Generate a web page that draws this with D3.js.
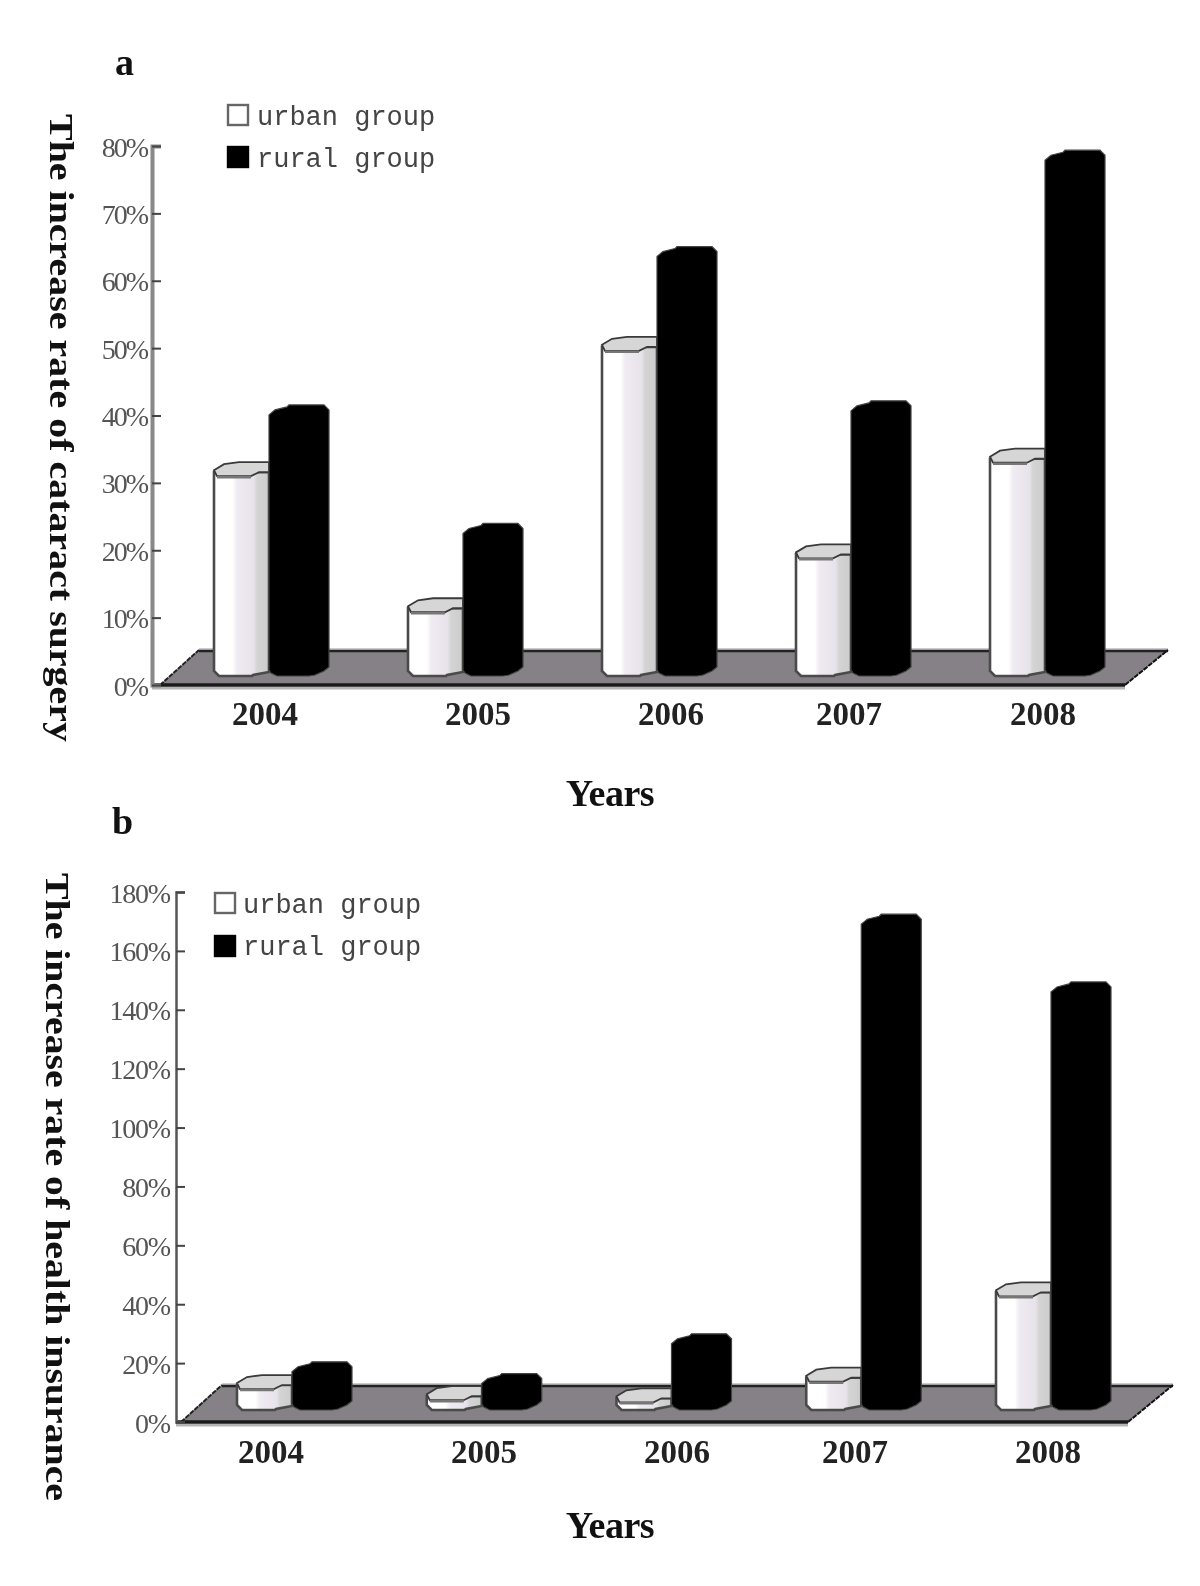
<!DOCTYPE html>
<html><head><meta charset="utf-8">
<script src="https://cdn.jsdelivr.net/npm/d3@7"></script>
<style>html,body{margin:0;padding:0;background:#fff}svg{display:block;filter:blur(.75px)}</style>
</head><body><svg id="c" width="1200" height="1586"></svg>
<script>
const years = ["2004","2005","2006","2007","2008"];
const seriesNames = ["urban group","rural group"];
const urbanA = [30.7,10.5,49.3,18.5,32.7];
const ruralA = [39.2,21.6,62.7,39.8,77];
const urbanB = [9.5,5.7,5,12,41];
const ruralB = [14,10,23.5,166,143];
const ticksA = [0,10,20,30,40,50,60,70,80];
const ticksB = [0,20,40,60,80,100,120,140,160,180];

const panels = [
 {letter:"a",lx:115,ly:75,urban:urbanA,rural:ruralA,ticks:ticksA,axisX:152,top:146,bottom:685,
  barL:214,barR:990,base:676,floorBack:650,backL:199,frontL:160,frontR:1125,backR:1168,
  labelCx:[265,478,671,849,1043],labelY:725,
  yTitle:"The increase rate of cataract surgery",yTx:50,yT0:114,yTlen:628,
  xTy:806,legX:227,legY:[104,146],legTx:257,legBase:[125,167],axisW:4,axisC:"#888",labelSp:-2,labelPad:5},
 {letter:"b",lx:112,ly:834,urban:urbanB,rural:ruralB,ticks:ticksB,axisX:176,top:892,bottom:1422,
  barL:237,barR:996,base:1410,floorBack:1385,backL:222,frontL:181,frontR:1128,backR:1173,
  labelCx:[271,484,677,855,1048],labelY:1463,
  yTitle:"The increase rate of health insurance",yTx:46,yT0:873,yTlen:628,
  xTy:1538,legX:214,legY:[892,935],legTx:243,legBase:[913,955],axisW:2.5,axisC:"#555",labelSp:-1.2,labelPad:6}
];

const svg = d3.select("#c");
const defs = svg.append("defs");
const g = defs.append("linearGradient").attr("id","cyl");
[[0,"#fff"],[.34,"#fff"],[.42,"#f0ebf2"],[.72,"#e8e3ea"],[.78,"#d4d4d4"],[1,"#cccccc"]]
  .forEach(([o,c])=>g.append("stop").attr("offset",o).attr("stop-color",c));
const poly = d3.line().curve(d3.curveLinearClosed);
const W0 = 55, W1 = 60;

panels.forEach(p=>{
  const root = svg.append("g");
  const maxV = d3.max(p.ticks);
  const y = d3.scaleLinear().domain([0,maxV]).range([p.bottom,p.top]);
  const k = (p.bottom-p.top)/maxV;
  const h = v => p.base - v*k;
  const x = d3.scalePoint().domain(years).range([p.barL,p.barR]);

  // floor
  root.append("path").attr("d",poly([[p.frontL,p.bottom],[p.backL,p.floorBack],[p.backR,p.floorBack],[p.frontR,p.bottom]]))
    .attr("fill","#858186");
  root.append("line").attr("x1",p.backL).attr("x2",p.backR).attr("y1",p.floorBack-1).attr("y2",p.floorBack-1).attr("stroke","#bbb").attr("stroke-width",1.5);
  root.append("line").attr("x1",p.backL).attr("x2",p.backR).attr("y1",p.floorBack+1).attr("y2",p.floorBack+1).attr("stroke","#222").attr("stroke-width",2.5);
  root.append("line").attr("x1",p.frontL).attr("x2",p.backL).attr("y1",p.bottom).attr("y2",p.floorBack).attr("stroke","#222").attr("stroke-width",2).attr("stroke-dasharray","5 1");
  root.append("line").attr("x1",p.frontR).attr("x2",p.backR).attr("y1",p.bottom).attr("y2",p.floorBack).attr("stroke","#111").attr("stroke-width",2).attr("stroke-dasharray","5 1");
  root.append("line").attr("x1",p.axisX).attr("x2",p.frontR).attr("y1",p.bottom+3).attr("y2",p.bottom+3).attr("stroke","#b5b5b5").attr("stroke-width",3);
  root.append("line").attr("x1",p.axisX).attr("x2",p.frontR).attr("y1",p.bottom).attr("y2",p.bottom).attr("stroke","#1a1a1a").attr("stroke-width",3.5);

  // axis
  const ax = root.append("g").attr("transform",`translate(${p.axisX},0)`)
    .call(d3.axisLeft(y).tickValues(p.ticks).tickSize(-9).tickPadding(p.labelPad).tickFormat(d=>d+"%"));
  ax.select(".domain").attr("stroke",p.axisC).attr("stroke-width",p.axisW);
  ax.selectAll("line").attr("stroke","#444").attr("stroke-width",2);
  ax.selectAll("text").attr("font-family","Liberation Serif").attr("font-size",28).attr("fill","#555")
    .attr("letter-spacing",p.labelSp).attr("dy","0.36em");

  // bars
  years.forEach((yr,i)=>{
    const x0=x(yr), x1=x0+W0, t=h(p.urban[i]), b=p.base;
    const bar=root.append("g");
    bar.append("path").attr("d",poly([[x0,t+3],[x1,t+3],[x1,b-4],[x1-16,b-1],[x1-17,b],[x0+5,b],[x0,b-5]]))
      .attr("fill","url(#cyl)").attr("stroke","#4a4a4a").attr("stroke-width",2.6);
    bar.append("path").attr("d",poly([[x0,t+1],[x0+10,t-5],[x0+25,t-7],[x1,t-7],[x1,t+3],[x1-10,t+3],[x1-18,t+7],[x0+3,t+7]]))
      .attr("fill","#d6d6d6").attr("stroke","#3a3a3a").attr("stroke-width",1.8);
    bar.append("line").attr("x1",x0+3).attr("x2",x1-18).attr("y1",t+8).attr("y2",t+8).attr("stroke","#777").attr("stroke-width",2.5);
    const r0=x1, r1=r0+W1, rt=h(p.rural[i]);
    bar.append("path").attr("d",poly([[r0,rt+3],[r0+6,rt-2],[r0+18,rt-5],[r0+20,rt-7],[r1-5,rt-7],[r1,rt-2],[r1,b-9],[r1-5,b-5],[r1-14,b-1],[r1-20,b],[r0+8,b],[r0+2,b-3],[r0,b-6]]))
      .attr("fill","#000").attr("stroke","#444").attr("stroke-width",1.2);
  });

  // category labels
  root.selectAll("text.cat").data(years).join("text").attr("class","cat")
    .attr("x",(d,i)=>p.labelCx[i]).attr("y",p.labelY).attr("text-anchor","middle")
    .attr("font-family","Liberation Serif").attr("font-weight","bold").attr("font-size",33).attr("fill","#222").text(d=>d);

  // titles
  root.append("text").attr("x",p.lx).attr("y",p.ly).attr("font-family","Liberation Serif").attr("font-weight","bold").attr("font-size",38).attr("fill","#111").text(p.letter);
  root.append("text").attr("x",610).attr("y",p.xTy).attr("text-anchor","middle").attr("font-family","Liberation Serif").attr("font-weight","bold").attr("font-size",38).attr("letter-spacing",-.5).attr("fill","#111").text("Years");
  root.append("text").attr("transform",`translate(${p.yTx},${p.yT0}) rotate(90)`)
    .attr("font-family","Liberation Serif").attr("font-weight","bold").attr("font-size",34).attr("fill","#111")
    .attr("textLength",p.yTlen).attr("lengthAdjust","spacingAndGlyphs").text(p.yTitle);

  // legend
  seriesNames.forEach((n,i)=>{
    root.append("rect").attr("x",p.legX+1).attr("y",p.legY[i]+1).attr("width",20).attr("height",20)
      .attr("fill",i?"#000":"#fff").attr("stroke",i?"#000":"#666").attr("stroke-width",2.4);
    root.append("text").attr("x",p.legTx).attr("y",p.legBase[i]).attr("font-family","Liberation Mono")
      .attr("font-size",27).attr("fill","#444").text(n);
  });
});
</script></body></html>
